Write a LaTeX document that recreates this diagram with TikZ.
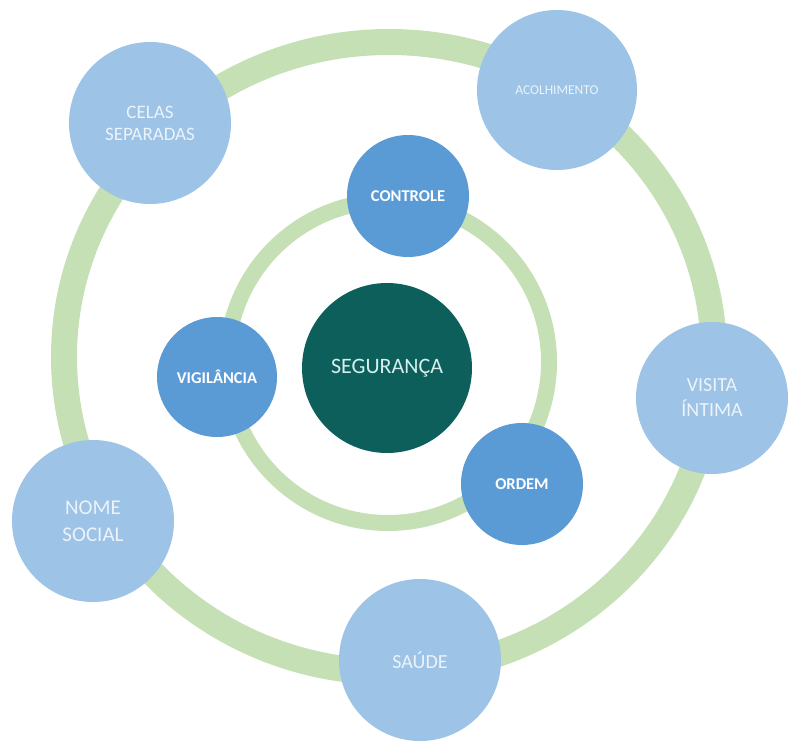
\documentclass[tikz,border=0pt]{standalone}
\usepackage{fontspec}
\setmainfont{Carlito}
\usepackage{tikz}
\usepackage{xcolor}
\definecolor{ringgreen}{RGB}{197,224,180}
\definecolor{paleblue}{RGB}{157,195,230}
\definecolor{midblue}{RGB}{91,155,213}
\definecolor{deepteal}{RGB}{12,95,91}
\definecolor{paletext}{RGB}{236,243,250}
\definecolor{coretext}{RGB}{214,240,238}

\begin{document}
\begin{tikzpicture}[
    x=1pt, y=-1pt,
    ring/.style={draw=ringgreen},
    outerbubble/.style={circle, fill=paleblue, inner sep=0, minimum size=162pt,
        text=paletext, align=center, font=\fontsize{20}{25}\selectfont},
    innerbubble/.style={circle, fill=midblue, inner sep=0, minimum size=122pt,
        text=white, font=\fontsize{16.5}{19}\selectfont\bfseries},
    corebubble/.style={circle, fill=deepteal, inner sep=0, minimum size=170pt,
        text=coretext, font=\fontsize{22}{25}\selectfont},
]
    \useasboundingbox (0,0) rectangle (788,742);

    % Rings
    \draw[ring, line width=26pt] (389,357) ellipse [x radius=325, y radius=315];
    \draw[ring, line width=16pt] (388,362) circle [radius=161];

    % Outer bubbles
    \node[outerbubble, font=\fontsize{19}{22}\selectfont] (celas) at (150,123) {CELAS\\SEPARADAS};
    \node[outerbubble, font=\fontsize{13.5}{16}\selectfont, minimum size=160pt] (acolhimento) at (557,90) {ACOLHIMENTO};
    \node[outerbubble, minimum size=152pt] (visita) at (712,398) {VISITA\\ÍNTIMA};
    \node[outerbubble, font=\fontsize{21}{27}\selectfont] (nome) at (93,521) {NOME\\SOCIAL};
    \node[outerbubble] (saude) at (420,660) {SAÚDE};

    % Inner bubbles
    \node[innerbubble] (controle) at (408,196) {CONTROLE};
    \node[innerbubble, minimum size=120pt] (vigilancia) at (217,377) {VIGILÂNCIA};
    \node[innerbubble] (ordem) at (522,484) {ORDEM};

    % Centre
    \node[corebubble] (seguranca) at (387,368) {SEGURANÇA};

\end{tikzpicture}
\end{document}
